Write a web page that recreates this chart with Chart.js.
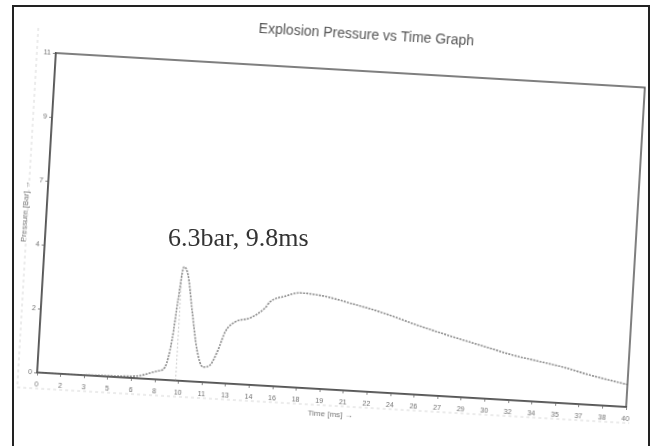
<!DOCTYPE html>
<html>
<head>
<meta charset="utf-8">
<script src="https://cdn.jsdelivr.net/npm/chart.js@4.4.1/dist/chart.umd.min.js"></script>
<style>
  html, body { margin: 0; padding: 0; background: #fff; }
  #page { position: relative; width: 654px; height: 446px; overflow: hidden; background: #fff; }
  #frame { position: absolute; left: 12px; top: 5px; width: 638px; height: 460px; border: 2px solid #222; box-sizing: border-box; }
  /* the scanned graph sits a little crooked on the page */
  #chart { position: absolute; left: 0; top: 0; transform-origin: 341px 230px; transform: rotate(3.35deg); }
  #note { position: absolute; left: 168px; top: 223px; font: 26px "Liberation Serif", "Times New Roman", serif; color: #333; white-space: nowrap; }
</style>
</head>
<body>
<div id="page">
  <div id="frame"></div>
  <canvas id="chart" width="654" height="446"></canvas>
  <div id="note">6.3bar, 9.8ms</div>
</div>
<script>
// time axis in ms, pressure in bar
const timeMs = [0, 2, 4, 6, 7, 7.64, 8.2, 8.63, 9.0, 9.25, 9.52, 9.83, 10.24, 10.73, 11.2, 11.67, 12.15, 12.56, 13.19, 14.2, 15.17, 15.48, 16.5, 17.48, 19.04, 20.9, 23.17, 25.52, 27.59, 28.69, 30.4, 32.14, 33.8, 35.57, 37.43, 40];
const pressureBar = [0, 0, 0.02, 0.05, 0.1, 0.21, 0.3, 0.44, 1.39, 2.77, 3.92, 3.65, 2.45, 1.09, 0.52, 0.6, 1.13, 1.77, 2.13, 2.3, 2.67, 2.89, 3.12, 3.26, 3.2, 3.01, 2.74, 2.39, 2.11, 1.97, 1.76, 1.55, 1.4, 1.24, 1.02, 0.77];

const peakTime = [9.4, 9.4];
const peakLevel = [0, 3.7];

const xTickValues = [0, 1.6, 3.2, 4.8, 6.4, 8, 9.6, 11.2, 12.8, 14.4, 16, 17.6, 19.2, 20.8, 22.4, 24, 25.6, 27.2, 28.8, 30.4, 32, 33.6, 35.2, 36.8, 38.4, 40];
const xTickLabels = ["0", "2", "3", "5", "6", "8", "10", "11", "13", "14", "16", "18", "19", "21", "22", "24", "26", "27", "29", "30", "32", "34", "35", "37", "38", "40"];
const yTickValues = [0, 2.2, 4.4, 6.6, 8.8, 11];
const yTickLabels = ["0", "2", "4", "7", "9", "11"];

const chartTitle = "Explosion Pressure vs Time Graph";

const framePlugin = {
    id: 'frame',
    beforeDraw(chart) {
        // faint dashed left/bottom edge of the graph window
        const ctx = chart.ctx, a = chart.chartArea;
        ctx.save();
        ctx.strokeStyle = '#d8d8d8';
        ctx.lineWidth = 1;
        ctx.setLineDash([3, 3]);
        ctx.beginPath();
        ctx.moveTo(a.left - 19, a.top - 24);
        ctx.lineTo(a.left - 19, a.bottom + 16);
        ctx.lineTo(a.right + 4, a.bottom + 16);
        ctx.stroke();
        ctx.restore();
    },
    afterDraw(chart) {
        const ctx = chart.ctx, a = chart.chartArea;
        ctx.save();
        ctx.strokeStyle = '#555';
        ctx.lineWidth = 1.5;
        ctx.strokeRect(a.left, a.top, a.right - a.left, a.bottom - a.top);
        ctx.fillStyle = '#555';
        ctx.font = '14px "Liberation Sans", Arial, sans-serif';
        ctx.textAlign = 'center';
        ctx.textBaseline = 'bottom';
        ctx.fillText(chartTitle, (a.left + a.right) / 2 + 14, a.top - 29);
        ctx.restore();
    }
};

new Chart(document.getElementById('chart'), {
    type: 'line',
    data: {
        datasets: [{
            data: timeMs.map((t, i) => ({ x: t, y: pressureBar[i] })),
            borderColor: '#8c8c8c',
            borderWidth: 1.6,
            borderDash: [2, 1.2],
            pointRadius: 0,
            cubicInterpolationMode: 'monotone',
            fill: false
        }, {
            data: peakTime.map((t, i) => ({ x: t, y: peakLevel[i] })),
            borderColor: '#cccccc',
            borderWidth: 1,
            borderDash: [2, 2],
            pointRadius: 0
        }]
    },
    plugins: [framePlugin],
    options: {
        responsive: false,
        animation: false,
        layout: { padding: { left: 20, right: 18, top: 70, bottom: 26 } },
        plugins: { legend: { display: false }, tooltip: { enabled: false } },
        scales: {
            x: {
                type: 'linear',
                min: 0,
                max: 40,
                afterBuildTicks(scale) { scale.ticks = xTickValues.map(v => ({ value: v })); },
                afterFit(scale) { scale.height = 30; },
                ticks: {
                    autoSkip: false,
                    maxRotation: 0,
                    padding: 5,
                    color: '#707070',
                    font: { family: 'Liberation Sans', size: 7 },
                    callback: (v, i) => xTickLabels[i]
                },
                grid: { display: true, drawOnChartArea: false, tickLength: 3, color: '#888' },
                border: { color: '#555', width: 1.5 },
                title: {
                    display: true,
                    text: 'Time [ms] →',
                    color: '#777',
                    font: { family: 'Liberation Sans', size: 8 },
                    padding: { top: 0, bottom: 0 }
                }
            },
            y: {
                type: 'linear',
                min: 0,
                max: 11,
                afterBuildTicks(scale) { scale.ticks = yTickValues.map(v => ({ value: v })); },
                afterFit(scale) { scale.width = 26; },
                ticks: {
                    padding: 2,
                    color: '#707070',
                    font: { family: 'Liberation Sans', size: 7 },
                    callback: (v, i) => yTickLabels[i]
                },
                grid: { display: true, drawOnChartArea: false, tickLength: 3, color: '#888' },
                border: { color: '#555', width: 1.5 },
                title: {
                    display: true,
                    text: 'Pressure [Bar] →',
                    color: '#777',
                    font: { family: 'Liberation Sans', size: 8 },
                    padding: { top: 0, bottom: 0 }
                }
            }
        }
    }
});
</script>
</body>
</html>
